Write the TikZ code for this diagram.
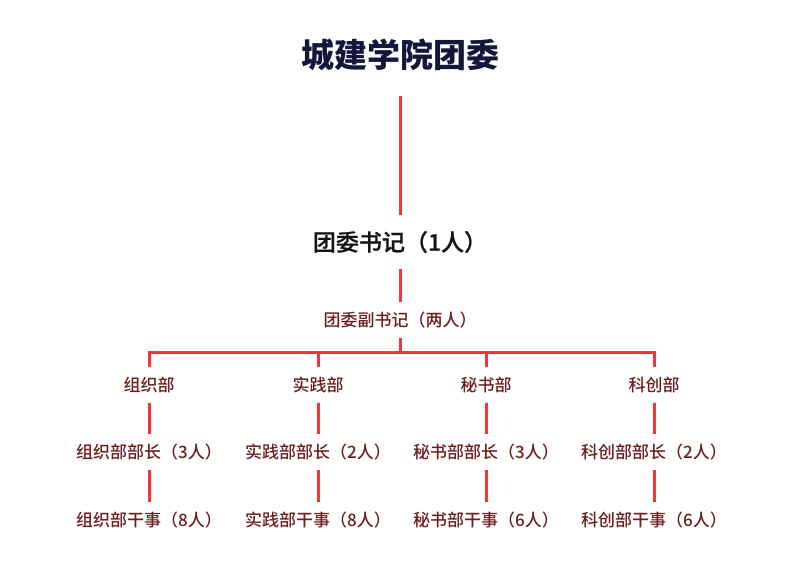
\documentclass[tikz,border=0pt]{standalone}
\usepackage{fontspec}
\setmainfont{Noto Sans CJK SC}
\newfontfamily\medfont{Noto Sans CJK SC Medium}
\newfontfamily\semifont[FakeBold=0.8]{Noto Sans CJK SC Medium}
\usetikzlibrary{arrows,positioning}
\definecolor{linered}{HTML}{F53636}
\definecolor{navyink}{HTML}{16163A}
\definecolor{redink}{HTML}{6E1E1E}
\tikzstyle{tt} = [text=navyink, font=\fontsize{33}{36}\selectfont\bfseries,
    inner sep=0pt, minimum height=82pt]
\tikzstyle{st} = [text=black!92, font=\fontsize{23}{26}\selectfont\semifont,
    inner sep=0pt, minimum height=53pt]
\tikzstyle{dt} = [text=redink, font=\fontsize{17}{20}\selectfont\medfont,
    inner sep=0pt, minimum height=35pt]
\tikzstyle{link} = [draw=linered, line width=3pt]

\begin{document}
\begin{tikzpicture}[x=1pt,y=1pt,every edge/.style={link}]
  \useasboundingbox (0,0) rectangle (799,-570);

  \node[tt]           (1) at (400,-55) {城建学院团委};
  \node[st]           (2) [below of=1,node distance=187pt] {团委书记（1人）};
  \node[dt]           (3) [below of=2,node distance=78pt] {团委副书记（两人）};
  \coordinate         (bar) at (400,-352);

  % departments
  \node[dt]           (4) [below of=3,node distance=65pt,xshift=-251pt] {组织部};
  \node[dt]           (5) [below of=3,node distance=65pt,xshift=-82pt] {实践部};
  \node[dt]           (6) [below of=3,node distance=65pt,xshift=86pt] {秘书部};
  \node[dt]           (7) [below of=3,node distance=65pt,xshift=254pt] {科创部};

  % heads
  \node[dt]           (8) [below of=4,node distance=67pt] {组织部部长（3人）};
  \node[dt]           (9) [below of=5,node distance=67pt] {实践部部长（2人）};
  \node[dt]           (10) [below of=6,node distance=67pt] {秘书部部长（3人）};
  \node[dt]           (11) [below of=7,node distance=67pt] {科创部部长（2人）};

  % staff
  \node[dt]           (12) [below of=8,node distance=68pt] {组织部干事（8人）};
  \node[dt]           (13) [below of=9,node distance=68pt] {实践部干事（8人）};
  \node[dt]           (14) [below of=10,node distance=68pt] {秘书部干事（6人）};
  \node[dt]           (15) [below of=11,node distance=68pt] {科创部干事（6人）};

  \path (1) edge (2)
  (2) edge (3)
  (3) edge (bar)
  (5) edge (5 |- bar)
  (6) edge (6 |- bar)
  (4) edge (8)
  (5) edge (9)
  (6) edge (10)
  (7) edge (11)
  (8) edge (12)
  (9) edge (13)
  (10) edge (14)
  (11) edge (15);
  \draw[link] (4.north) |- (bar) -| (7.north);
\end{tikzpicture}
\end{document}
